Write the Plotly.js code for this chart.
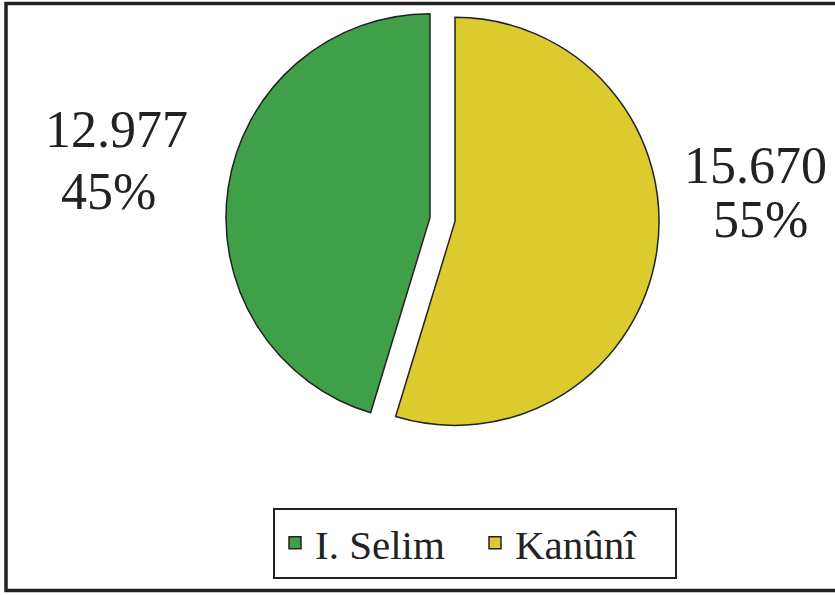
<!DOCTYPE html>
<html>
<head>
<meta charset="utf-8">
<script src="https://cdn.plot.ly/plotly-3.0.1.min.js"></script>
<style>html,body{margin:0;padding:0;background:#fff;}#chart{width:835px;height:595px;}</style>
</head>
<body>
<div id="chart"></div>
<script>
// ---- data ----
const labels = ['I. Selim', 'Kanûnî'];
const values = [12977, 15670];
const valueText = ['12.977', '15.670'];
const percentText = ['45%', '55%'];

// ---- styles ----
const sliceColors = ['#40a049', '#dccb2f'];
const serif = 'Liberation Serif';
const ink = '#222222';
const W = 835, H = 595;
const px = x => x / W;
const py = y => 1 - y / H;

// label positions (pixels) for value line and percent line of each slice
const labelPos = [
  {v: [116, 129.5], p: [108, 191.5]},
  {v: [755, 165.5], p: [760, 219.5]}
];

const annotations = [];
labels.forEach((l, i) => {
  annotations.push({text: valueText[i], x: px(labelPos[i].v[0]), y: py(labelPos[i].v[1]),
    xref: 'paper', yref: 'paper', xanchor: 'center', yanchor: 'middle', showarrow: false,
    font: {family: serif, size: 52, color: ink}});
  annotations.push({text: percentText[i], x: px(labelPos[i].p[0]), y: py(labelPos[i].p[1]),
    xref: 'paper', yref: 'paper', xanchor: 'center', yanchor: 'middle', showarrow: false,
    font: {family: serif, size: 52, color: ink}});
});

const r = 204, pull = 0.062, cx = 442.5, cy = 219.5;
const half = r * (1 + pull);
const total = values.reduce((a, b) => a + b, 0);
// first slice ends at 12 o'clock, lying on the left side
const rot = -360 * values[0] / total;

const trace = {
  type: 'pie',
  labels: labels,
  values: values,
  sort: false,
  direction: 'clockwise',
  rotation: rot,
  pull: [pull, pull],
  textinfo: 'none',
  hoverinfo: 'label+value+percent',
  marker: {colors: sliceColors, line: {color: ink, width: 1.5}},
  domain: {x: [px(cx - half), px(cx + half)], y: [py(cy + half), py(cy - half)]}
};

const layout = {
  width: W, height: H,
  margin: {l: 0, r: 0, t: 0, b: 0},
  paper_bgcolor: '#ffffff',
  plot_bgcolor: '#ffffff',
  font: {family: serif, color: ink},
  showlegend: true,
  legend: {
    orientation: 'h', x: px(273), y: py(507.5), xanchor: 'left', yanchor: 'top',
    bgcolor: '#ffffff', bordercolor: ink, borderwidth: 2, entrywidth: 155,
    font: {family: serif, size: 41, color: ink}, traceorder: 'normal'
  },
  annotations: annotations,
  shapes: [{
    type: 'rect', xref: 'paper', yref: 'paper',
    x0: px(6), x1: 1.03, y0: py(590.5), y1: py(3.5),
    line: {color: ink, width: 3.5}, fillcolor: 'rgba(0,0,0,0)'
  }]
};

Plotly.newPlot('chart', [trace], layout, {displayModeBar: false, staticPlot: true});
</script>
</body>
</html>
